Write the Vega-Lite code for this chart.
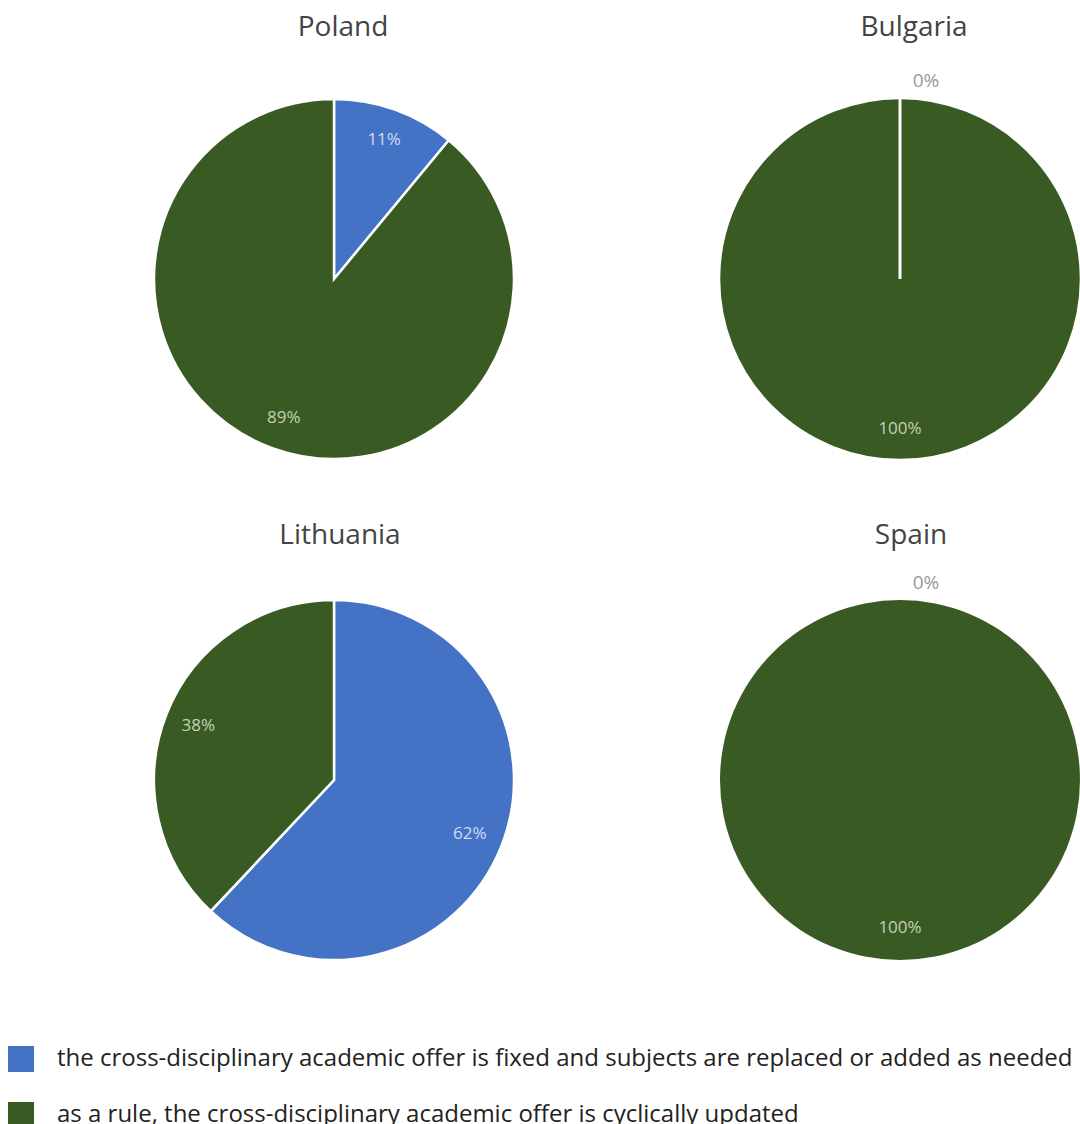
{
  "$schema": "https://vega.github.io/schema/vega-lite/v6.json",
  "autosize": {"type": "pad"},
  "padding": {"left": 8, "top": 14, "right": 0, "bottom": 0},
  "background": "white",
  "data": {"values": [
    {"country": "Poland", "category": "the cross-disciplinary academic offer is fixed and subjects are replaced or added as needed", "value": 0.11},
    {"country": "Poland", "category": "as a rule, the cross-disciplinary academic offer is cyclically updated", "value": 0.89},
    {"country": "Bulgaria", "category": "the cross-disciplinary academic offer is fixed and subjects are replaced or added as needed", "value": 0.0},
    {"country": "Bulgaria", "category": "as a rule, the cross-disciplinary academic offer is cyclically updated", "value": 1.0},
    {"country": "Lithuania", "category": "the cross-disciplinary academic offer is fixed and subjects are replaced or added as needed", "value": 0.62},
    {"country": "Lithuania", "category": "as a rule, the cross-disciplinary academic offer is cyclically updated", "value": 0.38},
    {"country": "Spain", "category": "the cross-disciplinary academic offer is fixed and subjects are replaced or added as needed", "value": 0.0},
    {"country": "Spain", "category": "as a rule, the cross-disciplinary academic offer is cyclically updated", "value": 1.0}
  ]},
  "columns": 2,
  "bounds": "flush",
  "spacing": {"row": 101, "column": 166},
  "config": {
    "view": {"stroke": null},
    "font": "Open Sans",
    "title": {"fontSize": 28, "fontWeight": "normal", "color": "#444444", "font": "Open Sans", "baseline": "alphabetic"}
  },
  "concat": [
    {
      "title": {"text": "Poland", "dx": 9, "offset": 37},
      "width": 400, "height": 400,
      "transform": [{"filter": "datum.country === 'Poland'"}],
      "encoding": {
        "theta": {"field": "value", "type": "quantitative", "stack": true},
        "order": {"field": "category", "sort": "descending"},
        "detail": {"field": "category"}
      },
      "layer": [
        {"mark": {"type": "arc", "outerRadius": 180, "stroke": "white", "strokeWidth": 2.5},
         "encoding": {"color": {"field": "category", "type": "nominal",
           "scale": {"domain": ["the cross-disciplinary academic offer is fixed and subjects are replaced or added as needed", "as a rule, the cross-disciplinary academic offer is cyclically updated"], "range": ["#4472C4", "#3A5A23"]},
           "legend": {"title": null, "orient": "none", "legendX": -126, "legendY": 967, "symbolType": "square", "symbolSize": 676, "symbolStrokeWidth": 0, "labelFontSize": 24, "labelColor": "#222222", "labelFont": "Open Sans", "labelLimit": 1100, "labelOffset": 23, "rowPadding": 30}}}},
        {"transform": [{"filter": "datum.value > 0"}],
         "mark": {"type": "text", "radius": 148, "fontSize": 17},
         "encoding": {"text": {"field": "value", "type": "quantitative", "format": ".0%"},
           "color": {"condition": {"test": "indexof(datum.category, 'fixed') >= 0", "value": "#cfdcf2"}, "value": "#c3d1b5"}}},
        {"transform": [{"filter": "datum.value == 0"}],
         "mark": {"type": "text", "radius": 198, "fontSize": 19, "dx": 26, "color": "#999999"},
         "encoding": {"text": {"field": "value", "type": "quantitative", "format": ".0%"}}}
      ]
    },
    {
      "title": {"text": "Bulgaria", "dx": 14, "offset": 30},
      "width": 400, "height": 400,
      "transform": [{"filter": "datum.country === 'Bulgaria'"}],
      "encoding": {
        "theta": {"field": "value", "type": "quantitative", "stack": true},
        "order": {"field": "category", "sort": "descending"},
        "detail": {"field": "category"}
      },
      "layer": [
        {"mark": {"type": "arc", "outerRadius": 181, "stroke": "white", "strokeWidth": 2.5},
         "encoding": {"color": {"field": "category", "type": "nominal",
           "scale": {"domain": ["the cross-disciplinary academic offer is fixed and subjects are replaced or added as needed", "as a rule, the cross-disciplinary academic offer is cyclically updated"], "range": ["#4472C4", "#3A5A23"]}}}},
        {"transform": [{"filter": "datum.value == 0"}],
         "mark": {"type": "arc", "outerRadius": 181, "stroke": "white", "strokeWidth": 3, "fill": "white"},
         "encoding": {}},
        {"transform": [{"filter": "datum.value > 0"}],
         "mark": {"type": "text", "radius": 150, "fontSize": 17},
         "encoding": {"text": {"field": "value", "type": "quantitative", "format": ".0%"},
           "color": {"condition": {"test": "indexof(datum.category, 'fixed') >= 0", "value": "#cfdcf2"}, "value": "#c3d1b5"}}},
        {"transform": [{"filter": "datum.value == 0"}],
         "mark": {"type": "text", "radius": 198, "fontSize": 19, "dx": 26, "color": "#999999"},
         "encoding": {"text": {"field": "value", "type": "quantitative", "format": ".0%"}}}
      ]
    },
    {
      "title": {"text": "Lithuania", "dx": 6, "offset": 30},
      "width": 400, "height": 400,
      "transform": [{"filter": "datum.country === 'Lithuania'"}],
      "encoding": {
        "theta": {"field": "value", "type": "quantitative", "stack": true},
        "order": {"field": "category", "sort": "descending"},
        "detail": {"field": "category"}
      },
      "layer": [
        {"mark": {"type": "arc", "outerRadius": 180, "stroke": "white", "strokeWidth": 2.5},
         "encoding": {"color": {"field": "category", "type": "nominal",
           "scale": {"domain": ["the cross-disciplinary academic offer is fixed and subjects are replaced or added as needed", "as a rule, the cross-disciplinary academic offer is cyclically updated"], "range": ["#4472C4", "#3A5A23"]}}}},
        {"transform": [{"filter": "datum.value > 0"}],
         "mark": {"type": "text", "radius": 146, "fontSize": 17},
         "encoding": {"text": {"field": "value", "type": "quantitative", "format": ".0%"},
           "color": {"condition": {"test": "indexof(datum.category, 'fixed') >= 0", "value": "#cfdcf2"}, "value": "#c3d1b5"}}},
        {"transform": [{"filter": "datum.value == 0"}],
         "mark": {"type": "text", "radius": 198, "fontSize": 19, "dx": 26, "color": "#999999"},
         "encoding": {"text": {"field": "value", "type": "quantitative", "format": ".0%"}}}
      ]
    },
    {
      "title": {"text": "Spain", "dx": 11, "offset": 24},
      "width": 400, "height": 400,
      "transform": [{"filter": "datum.country === 'Spain'"}],
      "encoding": {
        "theta": {"field": "value", "type": "quantitative", "stack": true},
        "order": {"field": "category", "sort": "descending"},
        "detail": {"field": "category"}
      },
      "layer": [
        {"mark": {"type": "arc", "outerRadius": 180, "strokeWidth": 0},
         "encoding": {"color": {"field": "category", "type": "nominal",
           "scale": {"domain": ["the cross-disciplinary academic offer is fixed and subjects are replaced or added as needed", "as a rule, the cross-disciplinary academic offer is cyclically updated"], "range": ["#4472C4", "#3A5A23"]}}}},
        {"transform": [{"filter": "datum.value > 0"}],
         "mark": {"type": "text", "radius": 148, "fontSize": 17},
         "encoding": {"text": {"field": "value", "type": "quantitative", "format": ".0%"},
           "color": {"condition": {"test": "indexof(datum.category, 'fixed') >= 0", "value": "#cfdcf2"}, "value": "#c3d1b5"}}},
        {"transform": [{"filter": "datum.value == 0"}],
         "mark": {"type": "text", "radius": 197, "fontSize": 19, "dx": 26, "color": "#999999"},
         "encoding": {"text": {"field": "value", "type": "quantitative", "format": ".0%"}}}
      ]
    }
  ]
}
